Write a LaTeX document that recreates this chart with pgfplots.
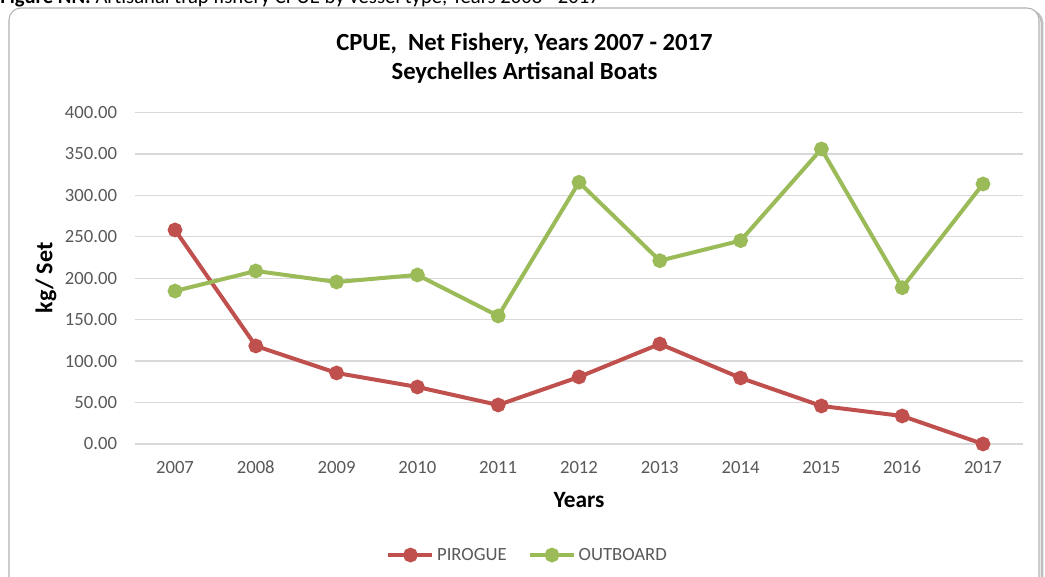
\documentclass[border=0pt]{standalone}
\usepackage{pgfplots}
\pgfplotsset{compat=1.18}
\usepackage{fontspec}
\setmainfont{Carlito}

\definecolor{pirogue}{HTML}{C0504D}
\definecolor{outboard}{HTML}{9BBB59}
\definecolor{txt}{HTML}{595959}
\definecolor{gridc}{HTML}{D9D9D9}

% 1 px of the reference = 0.75pt, picture is 1045 x 577 px
\begin{document}
\begin{tikzpicture}[x=0.75pt,y=0.75pt]
\clip (0,0) rectangle (1045,577);
\useasboundingbox (0,0) rectangle (1045,577);

% chart frame with a light shadow
\draw[line width=2pt, black!25, rounded corners=9pt] (12,-20) rectangle (1042,566);
\draw[line width=0.8pt, black!30, fill=white, rounded corners=9pt] (9,-20) rectangle (1039,569);

% caption, mostly cut off at the top
\node[anchor=base west, inner sep=0pt, font=\fontsize{15.5}{17}\selectfont] at (0,573)
  {\textbf{Figure NN:} Artisanal trap fishery CPUE by vessel type, Years 2008 - 2017};

\begin{axis}[
  at={(100.95pt,99.75pt)}, anchor=south west,
  scale only axis, width=666.6pt, height=248.6pt,
  xmin=2006.5, xmax=2017.5, ymin=0, ymax=400,
  xtick={2007,...,2017}, ytick={0,50,...,400},
  axis line style={draw=none}, major tick style={draw=none},
  ymajorgrids, grid style={gridc, line width=1pt},
  clip=false,
  /pgf/number format/assume math mode=true,
  ticklabel style={font=\fontsize{14}{16}\selectfont, text=txt},
  xticklabel style={/pgf/number format/1000 sep={}, anchor=base, inner sep=0pt, yshift=-22.5pt},
  yticklabel style={/pgf/number format/.cd, fixed, fixed zerofill, precision=2, 1000 sep={},
    /tikz/.cd, anchor=east, inner sep=0pt, xshift=-13pt},
  legend columns=2,
  legend style={at={(0.4426,-0.335)}, anchor=center, draw=none,
    font=\fontsize{14}{16}\selectfont, text=txt,
    /tikz/every even column/.append style={column sep=14pt}},
  legend image code/.code={\draw[mark repeat=2, mark phase=2, #1]
    plot coordinates {(0pt,0pt) (16.5pt,0pt) (33pt,0pt)};},
]
\addplot[pirogue, line width=3pt, mark=*, mark size=4pt] coordinates {
  (2007,258.3) (2008,118.3) (2009,85.7) (2010,68.8) (2011,47.1) (2012,80.9)
  (2013,120.7) (2014,79.7) (2015,45.9) (2016,33.8) (2017,0.0)
};
\addlegendentry{PIROGUE}
\addplot[outboard, line width=3pt, mark=*, mark size=4pt] coordinates {
  (2007,184.6) (2008,208.8) (2009,195.5) (2010,204.0) (2011,154.5) (2012,315.8)
  (2013,221.2) (2014,245.4) (2015,356.0) (2016,188.6) (2017,313.8)
};
\addlegendentry{OUTBOARD}
\end{axis}

% titles
\node[font=\bfseries\fontsize{18.5}{20}\selectfont, align=center, anchor=center] at (524.5,519)
  {CPUE,~ Net Fishery, Years 2007 - 2017\\[2pt]Seychelles Artisanal Boats};
\node[font=\bfseries\fontsize{18}{20}\selectfont, rotate=90] at (46,299) {kg/ Set};
\node[font=\bfseries\fontsize{17.5}{20}\selectfont] at (579,77) {Years};
\end{tikzpicture}
\end{document}
